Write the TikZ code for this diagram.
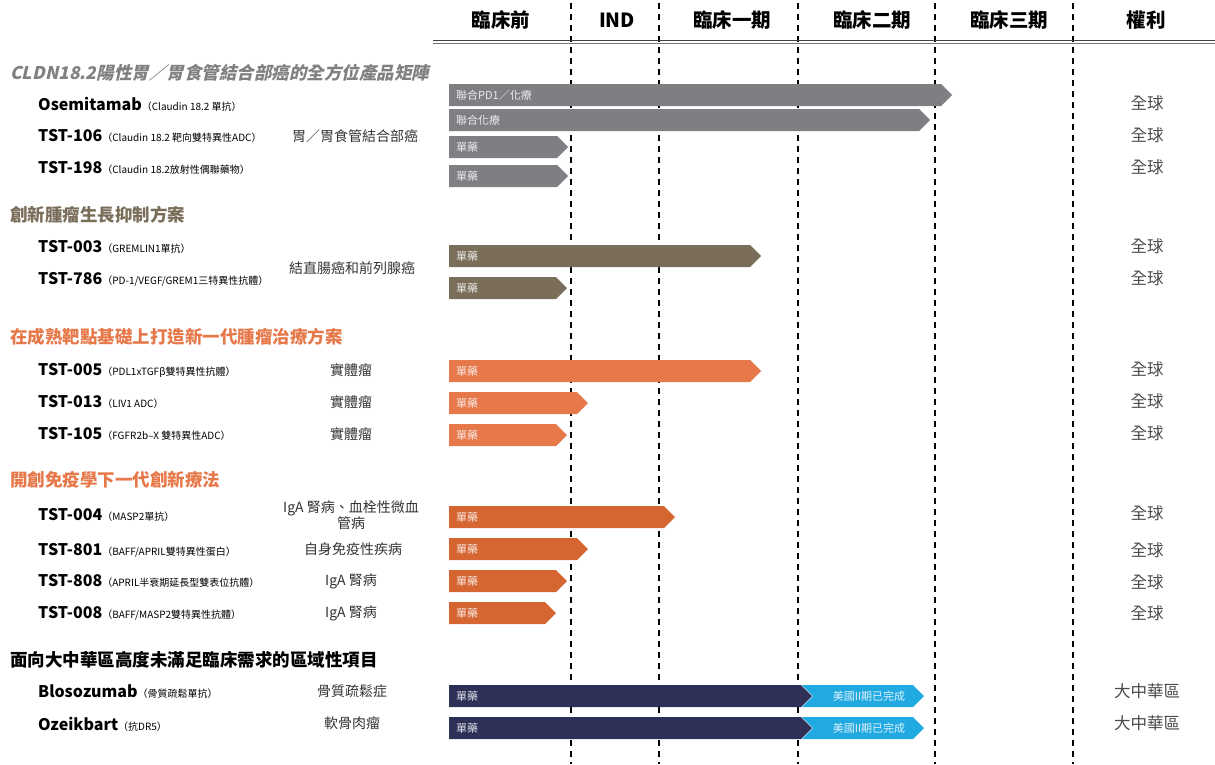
\documentclass[tikz,border=0pt]{standalone}
\usepackage{fontspec}
\setmainfont{Noto Sans CJK TC}
\newfontfamily\titleit{Noto Sans CJK TC}[FakeSlant=0.22, BoldFeatures={FakeSlant=0.22}]
\definecolor{cgray}{HTML}{7E7F83}
\definecolor{cbrown}{HTML}{7A6E5A}
\definecolor{corange}{HTML}{E6784A}
\definecolor{cdorange}{HTML}{D66631}
\definecolor{cnavy}{HTML}{2E3057}
\definecolor{ccyan}{HTML}{21A9E1}
\definecolor{ctitlegray}{HTML}{808080}
\definecolor{ctxt}{HTML}{333333}
\definecolor{crights}{HTML}{4A4A4A}
\newcommand\chev[5]{%
  \fill[#1] (449,#2-11) -- (#3-11,#2-11) -- (#3,#2) -- (#3-11,#2+11) -- (449,#2+11) -- cycle;
  \node[barlabel] (#5) at (456,#2) {#4};}
\newcommand\twobar[3]{%
  \fill[cnavy] (449,#1-11) -- (801,#1-11) -- (812,#1) -- (801,#1+11) -- (449,#1+11) -- cycle;
  \fill[ccyan] (802,#1-11) -- (913,#1-11) -- (924,#1) -- (913,#1+11) -- (802,#1+11) -- (813,#1) -- cycle;
  \node[barlabel] (#2) at (456,#1) {單藥};
  \node[barlabel, anchor=center] (#3) at (869,#1) {美國II期已完成};}
\newcommand\pn[2]{{\bfseries\fontsize{16}{16}\selectfont #1}{\fontsize{10}{10}\selectfont #2}}
\begin{document}
\begin{tikzpicture}[x=1pt,y=-1pt,
  phase/.style={line width=1.2pt, dash pattern=on 6pt off 5pt},
  head/.style={font=\bfseries\fontsize{19.5}{20}\selectfont, inner sep=0},
  sect/.style={anchor=west, inner sep=0, font=\bfseries\fontsize{17.5}{18}\selectfont},
  prod/.style={anchor=west, inner sep=0},
  dis/.style={inner sep=0, text=ctxt, font=\fontsize{14}{15}\selectfont, align=center},
  rights/.style={inner sep=0, text=crights, font=\fontsize{16.5}{16.5}\selectfont},
  barlabel/.style={anchor=west, inner sep=0, text=white, text opacity=0.85, font=\fontsize{11}{11}\selectfont}]
\useasboundingbox (0,0) rectangle (1215,764);
% phase separators
\foreach \x in {571,659,798,935,1073} \draw[phase] (\x,3) -- (\x,764);
% header
\node[head] (h1) at (501,20) {臨床前};
\node[head] (h2) at (617,20) {IND};
\node[head] (h3) at (732,20) {臨床一期};
\node[head] (h4) at (872,20) {臨床二期};
\node[head] (h5) at (1009,20) {臨床三期};
\node[head] (h6) at (1146,20) {權利};
\draw[line width=1.8pt, black!75] (433,40.5) -- (1215,40.5);
\draw[line width=0.6pt, black!55] (433,43.6) -- (1215,43.6);
% section 1
\node[sect, text=ctitlegray, font=\titleit\bfseries\fontsize{17.5}{18}\selectfont] (s1) at (10,73) {CLDN18.2陽性胃／胃食管結合部癌的全方位產品矩陣};
\node[prod] (p1) at (38,104) {\pn{Osemitamab}{（Claudin 18.2 單抗）}};
\node[prod] (p2) at (38,136) {\pn{TST-106}{（Claudin 18.2 靶向雙特異性ADC）}};
\node[prod] (p3) at (38,168) {\pn{TST-198}{（Claudin 18.2放射性偶聯藥物）}};
\node[dis] (d1) at (355,136) {胃／胃食管結合部癌};
\chev{cgray}{95}{952}{聯合PD1／化療}{b1}
\chev{cgray}{120}{930}{聯合化療}{b2}
\chev{cgray}{147}{568}{單藥}{b3}
\chev{cgray}{176}{568}{單藥}{b4}
% section 2
\node[sect, text=cbrown] (s2) at (10,215) {創新腫瘤生長抑制方案};
\node[prod] (p4) at (38,247) {\pn{TST-003}{（GREMLIN1單抗）}};
\node[prod] (p5) at (38,279) {\pn{TST-786}{（PD-1/VEGF/GREM1三特異性抗體）}};
\node[dis] (d2) at (352,268) {結直腸癌和前列腺癌};
\chev{cbrown}{256}{761}{單藥}{b5}
\chev{cbrown}{288}{567}{單藥}{b6}
% section 3
\node[sect, text=corange] (s3) at (10,337) {在成熟靶點基礎上打造新一代腫瘤治療方案};
\node[prod] (p6) at (38,370) {\pn{TST-005}{（PDL1xTGFβ雙特異性抗體）}};
\node[prod] (p7) at (38,402) {\pn{TST-013}{（LIV1 ADC）}};
\node[prod] (p8) at (38,434) {\pn{TST-105}{（FGFR2b–X 雙特異性ADC）}};
\node[dis] (d3) at (351,370) {實體瘤};
\node[dis] (d4) at (351,402) {實體瘤};
\node[dis] (d5) at (351,434) {實體瘤};
\chev{corange}{371}{761}{單藥}{b7}
\chev{corange}{403}{588}{單藥}{b8}
\chev{corange}{435}{567}{單藥}{b9}
% section 4
\node[sect, text=corange] (s4) at (10,480) {開創免疫學下一代創新療法};
\node[prod] (p9) at (38,515) {\pn{TST-004}{（MASP2單抗）}};
\node[prod] (p10) at (38,550) {\pn{TST-801}{（BAFF/APRIL雙特異性蛋白）}};
\node[prod] (p11) at (38,581) {\pn{TST-808}{（APRIL半衰期延長型雙表位抗體）}};
\node[prod] (p12) at (38,613) {\pn{TST-008}{（BAFF/MASP2雙特異性抗體）}};
\node[dis] (d6) at (351,515) {IgA 腎病、血栓性微血\\管病};
\node[dis] (d7) at (353,549) {自身免疫性疾病};
\node[dis] (d8) at (351,581) {IgA 腎病};
\node[dis] (d9) at (351,613) {IgA 腎病};
\chev{cdorange}{517}{675}{單藥}{b10}
\chev{cdorange}{549}{588}{單藥}{b11}
\chev{cdorange}{581}{567}{單藥}{b12}
\chev{cdorange}{613}{556}{單藥}{b13}
% section 5
\node[sect, text=black] (s5) at (10,660) {面向大中華區高度未滿足臨床需求的區域性項目};
\node[prod] (p13) at (38,692) {\pn{Blosozumab}{（骨質疏鬆單抗）}};
\node[prod] (p14) at (38,724) {\pn{Ozeikbart}{（抗DR5）}};
\node[dis] (d10) at (352,691) {骨質疏鬆症};
\node[dis] (d11) at (352,723) {軟骨肉瘤};
\twobar{696}{b14}{c14}
\twobar{728}{b15}{c15}
% rights
\foreach \y/\n in {103/r1,135/r2,167/r3,246/r4,278/r5,369/r6,401/r7,433/r8,513/r9,550/r10,582/r11,613/r12}
  \node[rights] (\n) at (1147,\y) {全球};
\node[rights] (r13) at (1147,691) {大中華區};
\node[rights] (r14) at (1147,723) {大中華區};
\end{tikzpicture}
\end{document}
